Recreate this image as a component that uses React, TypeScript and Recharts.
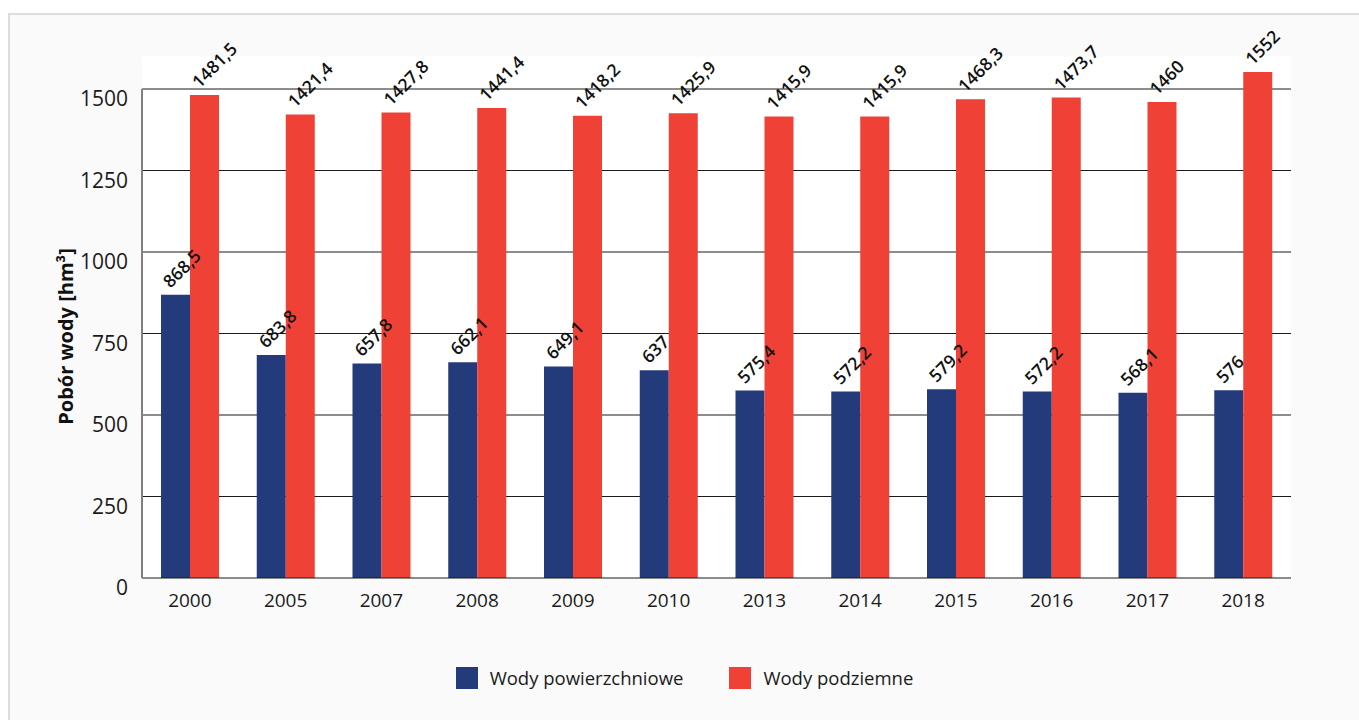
import React from 'react';
import {
  BarChart,
  Bar,
  XAxis,
  YAxis,
  CartesianGrid,
  LabelList,
  Legend,
  Label,
} from 'recharts';

const YEARS = ['2000', '2005', '2007', '2008', '2009', '2010', '2013', '2014', '2015', '2016', '2017', '2018'];
const SURFACE = [868.5, 683.8, 657.8, 662.1, 649.1, 637, 575.4, 572.2, 579.2, 572.2, 568.1, 576];
const GROUND = [1481.5, 1421.4, 1427.8, 1441.4, 1418.2, 1425.9, 1415.9, 1415.9, 1468.3, 1473.7, 1460, 1552];
const Y_TICKS = [0, 250, 500, 750, 1000, 1250, 1500];
const Y_MAX = 1600;

const SERIES = [
  { key: 'surface', name: 'Wody powierzchniowe', color: '#233a7b' },
  { key: 'ground', name: 'Wody podziemne', color: '#ef4136' },
];

const data = YEARS.map((year, i) => ({ year, surface: SURFACE[i], ground: GROUND[i] }));

const FONT = '"Open Sans", sans-serif';

const fmt = (v: number) => String(v).replace('.', ',');

const BarValue = (props: any) => {
  const { x, y, width, value } = props;
  const ax = x + width / 2 - 5;
  const ay = y - 6;
  return (
    <text
      x={ax}
      y={ay}
      transform={`rotate(-45, ${ax}, ${ay})`}
      textAnchor="start"
      fontFamily={FONT}
      fontSize={17.5}
      fontWeight={600}
      fill="#111"
    >
      {fmt(value)}
    </text>
  );
};

const YTick = (props: any) => {
  const { x, y, payload } = props;
  return (
    <text x={x} y={y + 10} dy="0.35em" textAnchor="end" fontFamily={FONT} fontSize={21} fill="#1a1a1a">
      {payload.value}
    </text>
  );
};

// axis title + the grey axis line, which stops at the top tick instead of the top of the plot
const YAxisDecor = (p: any) => {
  const vb = p.viewBox;
  const lx = 63;
  const ly = vb.y + vb.height * 0.537;
  const axisX = vb.x + vb.width;
  const topTick = Y_TICKS[Y_TICKS.length - 1];
  return (
    <g>
      <line
        x1={axisX}
        x2={axisX}
        y1={vb.y + vb.height * (1 - topTick / Y_MAX)}
        y2={vb.y + vb.height}
        stroke="#808080"
        strokeWidth={2}
      />
      <text
        x={lx}
        y={ly}
        transform={`rotate(-90, ${lx}, ${ly})`}
        textAnchor="middle"
        fontFamily={FONT}
        fontSize={20}
        fontWeight={700}
        fill="#111"
      >
        Pobór wody [hm³]
      </text>
    </g>
  );
};

const LegendContent = () => (
  <div
    style={{
      display: 'flex',
      justifyContent: 'center',
      alignItems: 'center',
      gap: 46,
      fontFamily: FONT,
      fontSize: 18.5,
      color: '#1a1a1a',
    }}
  >
    {SERIES.map((s) => (
      <div key={s.key} style={{ display: 'flex', alignItems: 'center', gap: 12 }}>
        <span style={{ display: 'inline-block', width: 22, height: 22, background: s.color }} />
        <span>{s.name}</span>
      </div>
    ))}
  </div>
);

export default function App() {
  return (
    <div
      style={{
        position: 'fixed',
        left: 8,
        top: 13,
        width: 1351,
        height: 707,
        boxSizing: 'border-box',
        borderTop: '2px solid #dcdcdc',
        borderLeft: '2px solid #dcdcdc',
        background: '#fafafa',
      }}
    >
      <BarChart
        width={1349}
        height={705}
        data={data}
        margin={{ top: 41.4, right: 68, left: 0, bottom: 102 }}
        barGap={0}
        barSize={29}
      >
        <CartesianGrid
          vertical={false}
          stroke="#1a1a1a"
          fill="#ffffff"
          fillOpacity={1}
          horizontalValues={[250, 500, 750, 1000, 1250, 1500]}
        />
        <XAxis
          dataKey="year"
          height={40}
          tickLine={false}
          tickSize={0}
          tickMargin={16}
          axisLine={{ stroke: '#1a1a1a' }}
          tick={{ fontFamily: FONT, fontSize: 19, fill: '#1a1a1a' }}
        />
        <YAxis
          width={132}
          domain={[0, Y_MAX]}
          ticks={Y_TICKS}
          tickLine={false}
          tickSize={0}
          tickMargin={14}
          tick={<YTick />}
          axisLine={false}
        >
          <Label content={(p: any) => <YAxisDecor {...p} />} />
        </YAxis>
        <Legend
          content={<LegendContent />}
          wrapperStyle={{ top: 650, left: 0, width: 1349, height: 0 }}
        />
        {SERIES.map((s) => (
          <Bar key={s.key} dataKey={s.key} name={s.name} fill={s.color} isAnimationActive={false}>
            <LabelList dataKey={s.key} content={<BarValue />} />
          </Bar>
        ))}
      </BarChart>
    </div>
  );
}
